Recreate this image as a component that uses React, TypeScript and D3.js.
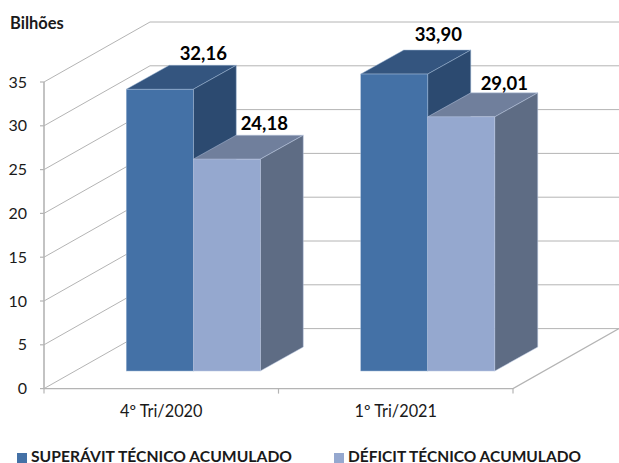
import React from "react";
import * as d3 from "d3";

const categories = ["4º Tri/2020", "1º Tri/2021"];
const seriesNames = ["SUPERÁVIT TÉCNICO ACUMULADO", "DÉFICIT TÉCNICO ACUMULADO"];
const superavit = [32.16, 33.9];
const deficit = [24.18, 29.01];
const yTicks = [0, 5, 10, 15, 20, 25, 30, 35];
const labelFmt = (v: number) => v.toFixed(2).replace(".", ",");

const W = 619, H = 463;
const FONT = "Lato, 'Open Sans', sans-serif";
const x0 = 44, x1 = 513, y0 = 388.6, y35 = 82;
const wallDx = 106, wallDy = -60;
const barShiftX = 32, barShiftY = -17.6;
const depthDx = 43, depthDy = -24;
// hand-placed data-label nudges, [series][category]
const labelNudgeX = [[3, 3.5], [-3, 2.5]];
const labelNudgeY = [[0, -4], [0, 2.5]];
const legendX = [17, 334];
const legendWidth = [261, 233];

const y = d3.scaleLinear().domain([0, 35]).range([y0, y35]);
const xBand = d3.scaleBand<string>().domain(categories).range([x0, x1]);
const inner = d3.scaleBand<string>().domain(seriesNames).range([0, 134]);

const palette = [
  { front: "#4471a6", top: "#34557f", side: "#2c4a70", edge: "#9db6d4" },
  { front: "#95a8cf", top: "#707f9c", side: "#5e6c84", edge: "#b9c6e0" },
];
const GRID = "#b4b4b4";
const pts = (p: number[][]) => p.map((q) => q.join(",")).join(" ");

export default function App() {
  const bars = [superavit, deficit];
  const unit = y0 - y(1);
  return (
    <svg
      width={W}
      height={H}
      viewBox={`0 0 ${W} ${H}`}
      style={{ position: "absolute", left: 0, top: 0, background: "#fff" }}
      fontFamily={FONT}
    >
      {yTicks.map((t) => (
        <g key={t}>
          <polyline
            points={pts([
              [x0, y(t)],
              [x0 + wallDx, y(t) + wallDy],
              [x1 + wallDx, y(t) + wallDy],
            ])}
            fill="none"
            stroke={GRID}
            strokeWidth={1}
          />
          <line x1={x0 - 4} x2={x0} y1={y(t)} y2={y(t)} stroke={GRID} strokeWidth={1.2} />
          <text x={27} y={y(t) + 5.5} fontSize={16} textAnchor="end" fill="#1a1a1a">
            {t}
          </text>
        </g>
      ))}
      <line x1={x0} x2={x0} y1={y35} y2={y0} stroke={GRID} strokeWidth={1.6} />
      <polyline
        points={pts([
          [x0, y0],
          [x1, y0],
          [x1 + wallDx, y0 + wallDy],
        ])}
        fill="none"
        stroke={GRID}
        strokeWidth={1.2}
      />
      {[x0, x0 + xBand.bandwidth(), x1].map((xt) => (
        <line key={xt} x1={xt} x2={xt} y1={y0} y2={y0 + 5} stroke={GRID} strokeWidth={1.2} />
      ))}
      {categories.map((c) => {
        const cx = xBand(c)! + xBand.bandwidth() / 2;
        return (
          <text key={c} x={cx} y={417} fontSize={16.3} textAnchor="middle" fill="#1a1a1a">
            {c}
          </text>
        );
      })}
      {categories.map((c, ci) => {
        const cx = xBand(c)! + xBand.bandwidth() / 2 + barShiftX;
        return (
          <g key={c}>
            {seriesNames.map((s, si) => {
              const v = bars[si][ci];
              const l = cx - 67 + inner(s)!;
              const r = l + inner.bandwidth();
              const b = y0 + barShiftY;
              const t = b - v * unit;
              const p = palette[si];
              return (
                <g key={s}>
                  <polygon
                    points={pts([
                      [l, t],
                      [l + depthDx, t + depthDy],
                      [r + depthDx, t + depthDy],
                      [r, t],
                    ])}
                    fill={p.top}
                    stroke={p.edge}
                    strokeWidth={0.5}
                  />
                  <polygon
                    points={pts([
                      [r, t],
                      [r + depthDx, t + depthDy],
                      [r + depthDx, b + depthDy],
                      [r, b],
                    ])}
                    fill={p.side}
                    stroke={p.edge}
                    strokeWidth={0.5}
                  />
                  <rect x={l} y={t} width={r - l} height={b - t} fill={p.front} stroke={p.edge} strokeWidth={0.5} />
                </g>
              );
            })}
          </g>
        );
      })}
      {categories.map((c, ci) => {
        const cx = xBand(c)! + xBand.bandwidth() / 2 + barShiftX;
        return seriesNames.map((s, si) => {
          const v = bars[si][ci];
          const lx = cx - 67 + inner(s)! + inner.bandwidth() / 2 + depthDx - 2.5 + labelNudgeX[si][ci];
          const t = y0 + barShiftY - v * unit;
          return (
            <text
              key={s + c}
              x={lx}
              y={t + depthDy - 5 + labelNudgeY[si][ci]}
              fontSize={18.5}
              fontWeight={700}
              textAnchor="middle"
              fill="#000"
            >
              {labelFmt(v)}
            </text>
          );
        });
      })}
      <text x={10} y={29} fontSize={16.5} fontWeight={700} fill="#1a1a1a">
        Bilhões
      </text>
      {seriesNames.map((s, i) => {
        const lx = legendX[i];
        return (
          <g key={s}>
            <rect x={lx} y={453} width={10} height={10} fill={palette[i].front} />
            <text
              x={lx + 14}
              y={462}
              fontSize={15.6}
              fontWeight={700}
              fill="#1a1a1a"
              textLength={legendWidth[i]}
              lengthAdjust="spacingAndGlyphs"
            >
              {s}
            </text>
          </g>
        );
      })}
    </svg>
  );
}
